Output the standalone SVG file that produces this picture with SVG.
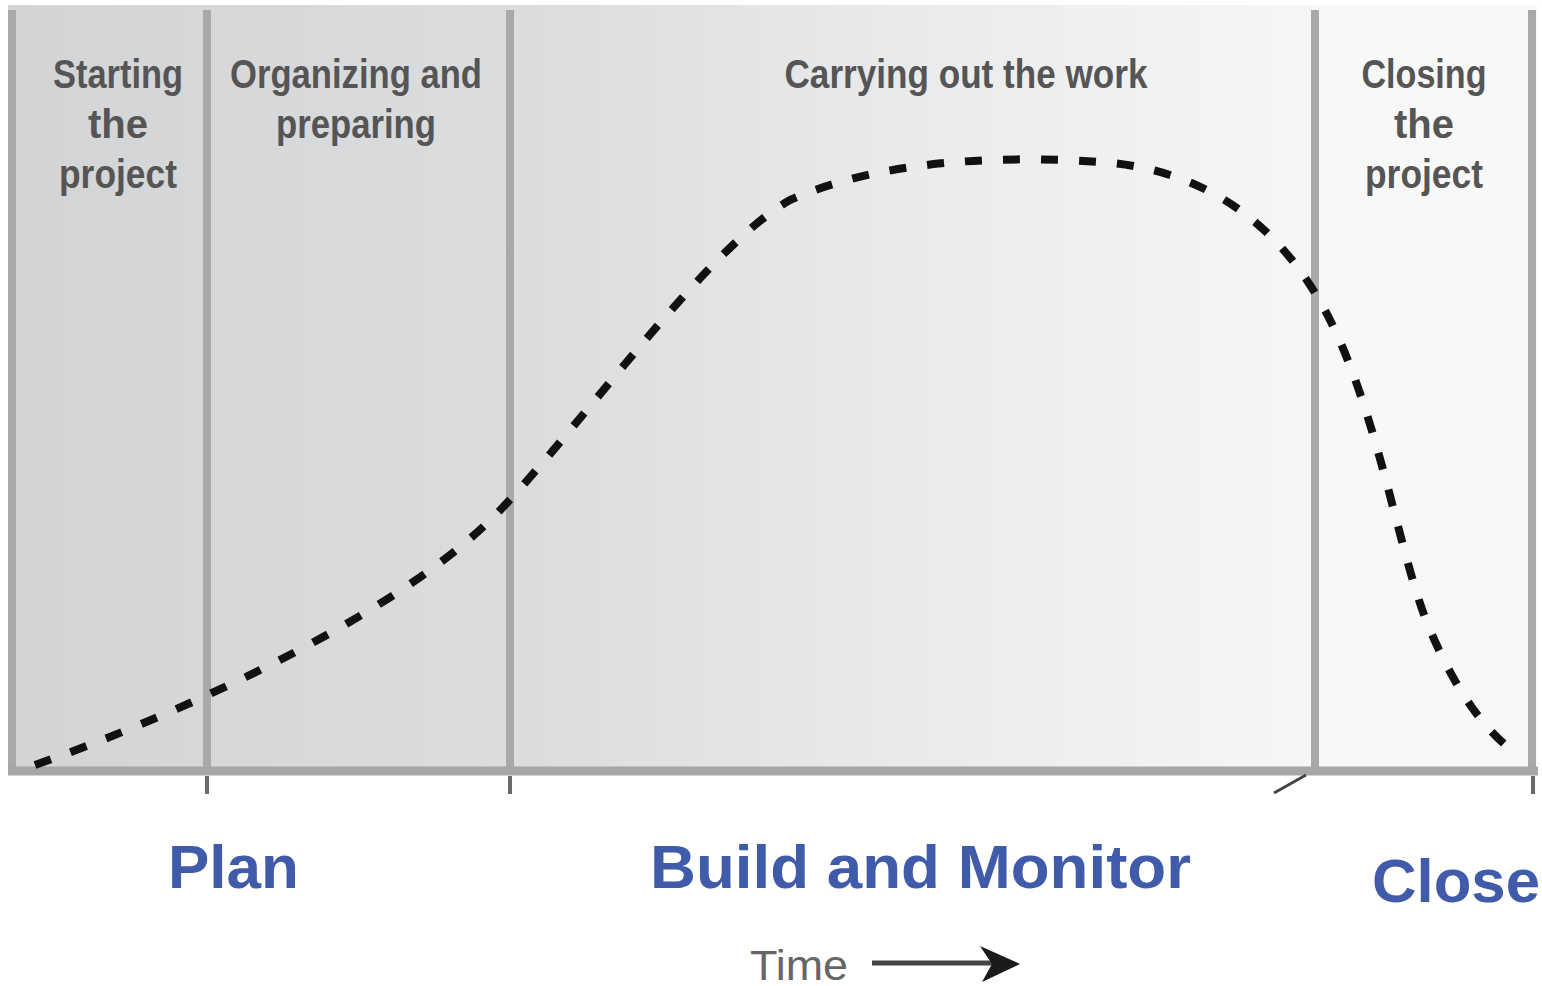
<svg xmlns="http://www.w3.org/2000/svg" width="1542" height="986" viewBox="0 0 1542 986">
<defs>
<linearGradient id="bg" x1="0" y1="0" x2="1" y2="0">
<stop offset="0" stop-color="#d3d4d6"/>
<stop offset="0.35" stop-color="#dcdddf"/>
<stop offset="0.6" stop-color="#eaebec"/>
<stop offset="0.85" stop-color="#f6f6f6"/>
<stop offset="1" stop-color="#fafafa"/>
</linearGradient>
<style>
.phase{font-family:"Liberation Sans",Arial,sans-serif;font-size:40px;fill:#555;text-anchor:middle;font-weight:bold}
.big{font-family:"Liberation Sans",Arial,sans-serif;font-size:62px;font-weight:bold;fill:#3f5ba9}
.div{stroke:#a9a9a9;stroke-width:8;fill:none}
.tick{stroke:#6a6a6a;stroke-width:4}
</style>
</defs>
<rect width="1542" height="986" fill="#ffffff"/>
<g id="chart">
<rect x="8" y="5" width="1530" height="770" fill="url(#bg)"/>
<rect x="1315" y="5" width="217" height="770" fill="#f8f8f8"/>
<line class="div" x1="12" y1="10" x2="12" y2="775"/>
<line class="div" x1="207" y1="10" x2="207" y2="775"/>
<line class="div" x1="510" y1="10" x2="510" y2="775"/>
<line class="div" x1="1315" y1="10" x2="1315" y2="775"/>
<line class="div" x1="1532" y1="10" x2="1532" y2="775"/>
<line x1="8" y1="771" x2="1538" y2="771" stroke="#a6a6a6" stroke-width="9"/>
<line class="tick" x1="207" y1="776" x2="207" y2="794"/>
<line class="tick" x1="510" y1="776" x2="510" y2="794"/>
<line class="tick" x1="1533" y1="776" x2="1533" y2="794"/>
<line x1="1274" y1="793" x2="1306" y2="775" stroke="#444" stroke-width="3"/>
</g>
<g id="labels">
<text class="phase" x="118" y="88" textLength="130" lengthAdjust="spacingAndGlyphs">Starting</text>
<text class="phase" x="118" y="138">the</text>
<text class="phase" x="118" y="188" textLength="118" lengthAdjust="spacingAndGlyphs">project</text>
<text class="phase" x="356" y="88" textLength="252" lengthAdjust="spacingAndGlyphs">Organizing and</text>
<text class="phase" x="356" y="138" textLength="160" lengthAdjust="spacingAndGlyphs">preparing</text>
<text class="phase" x="966" y="88" textLength="363" lengthAdjust="spacingAndGlyphs">Carrying out the work</text>
<text class="phase" x="1424" y="88" textLength="125" lengthAdjust="spacingAndGlyphs">Closing</text>
<text class="phase" x="1424" y="138">the</text>
<text class="phase" x="1424" y="188" textLength="118" lengthAdjust="spacingAndGlyphs">project</text>
</g>
<g id="connectors">
<path d="M35,765 C150,725 400,620 505,505 C585,420 710,245 790,200 C880,160 1000,155 1100,162 C1220,170 1290,240 1330,320 C1380,420 1400,560 1430,630 C1460,700 1490,735 1518,755" fill="none" stroke="#111" stroke-width="8" stroke-dasharray="17 21"/>
</g>
<g id="phases">
<text class="big" x="168" y="888" textLength="131" lengthAdjust="spacingAndGlyphs">Plan</text>
<text class="big" x="650" y="888" textLength="541" lengthAdjust="spacingAndGlyphs">Build and Monitor</text>
<text class="big" x="1372" y="902" textLength="168" lengthAdjust="spacingAndGlyphs">Close</text>
</g>
<g id="time">
<text x="750" y="980" font-family="'Liberation Sans',Arial,sans-serif" font-size="42" fill="#666" textLength="98" lengthAdjust="spacingAndGlyphs">Time</text>
<line x1="872" y1="963" x2="995" y2="963" stroke="#444" stroke-width="5"/>
<path d="M980,946 L1020,964 L982,982 L992,964 Z" fill="#1a1a1a"/>
</g>
</svg>
